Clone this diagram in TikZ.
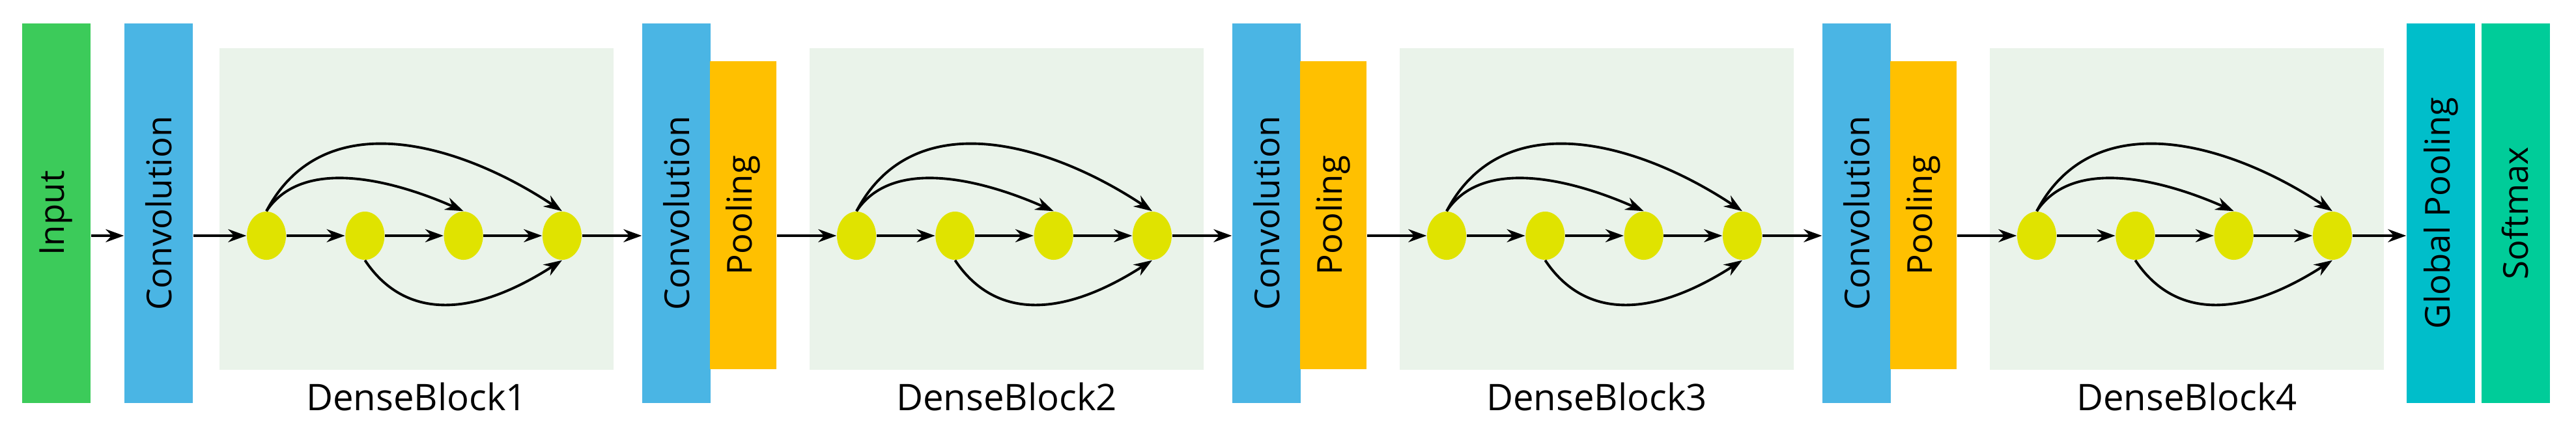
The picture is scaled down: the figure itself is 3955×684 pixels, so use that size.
\documentclass[tikz,border=0pt]{standalone}
\usepackage{fontspec}
\setmainfont{Open Sans}
\usetikzlibrary{arrows.meta,shapes.geometric}
\definecolor{cin}{HTML}{3CCB5A}
\definecolor{cconv}{HTML}{4AB5E4}
\definecolor{cpool}{HTML}{FFC000}
\definecolor{cbg}{HTML}{EAF3EA}
\definecolor{cnode}{HTML}{E0E300}
\definecolor{cgp}{HTML}{00BECA}
\definecolor{csm}{HTML}{00CC99}
\tikzset{
  bar/.style={minimum width=1.05cm, inner sep=0pt, font=\fontsize{15}{15}\selectfont},
  bg/.style={fill=cbg, draw=none, minimum width=6.05cm, minimum height=4.94cm, inner sep=0pt},
  dn/.style={ellipse, fill=cnode, minimum width=0.6cm, minimum height=0.74cm, inner sep=0pt},
  arr/.style={-{Stealth[length=0.28cm,width=0.2cm]}, line width=1.1pt},
  lbl/.style={font=\fontsize{16}{16}\selectfont}
}
\begin{document}
\begin{tikzpicture}[x=0.01cm,y=-0.01cm]
\useasboundingbox (0,0) rectangle (3955,684);
\node[bar, fill=cin, minimum height=5.83cm] (in) at (86.5,327.5) {\rotatebox{90}{Input}};
\node[bar, fill=cconv, minimum height=5.83cm] (c0) at (243.5,327.5) {\rotatebox{90}{Convolution}};
\foreach \k in {1,2,3,4}{
  \pgfmathsetmacro{\ox}{(\k-1)*906}
  \pgfmathsetmacro{\bx}{639.5+\ox}
  \node[bg] (bg\k) at (\bx,321) {};
  \node[lbl] (lab\k) at (\bx,609) {DenseBlock\k};
  \foreach \j in {1,2,3,4}{
    \pgfmathsetmacro{\nx}{409+\ox+(\j-1)*151.3}
    \node[dn] (n\k\j) at (\nx,362) {};
  }
  \draw[arr] (n\k1) -- (n\k2);
  \draw[arr] (n\k2) -- (n\k3);
  \draw[arr] (n\k3) -- (n\k4);
  \draw[arr] (n\k1.north) .. controls +(60,-90) and +(-90,-40) .. (n\k3.north);
  \draw[arr] (n\k1.north) .. controls +(90,-170) and +(-150,-100) .. (n\k4.north);
  \draw[arr] (n\k2.south) .. controls +(60,90) and +(-140,90) .. (n\k4.south);
}
\foreach \k in {1,2,3}{
  \pgfmathsetmacro{\ox}{(\k-1)*906}
  \pgfmathsetmacro{\cx}{1038.5+\ox}
  \pgfmathsetmacro{\px}{1141+\ox}
  \node[bar, fill=cconv, minimum height=5.83cm] (cv\k) at (\cx,327.5) {\rotatebox{90}{Convolution}};
  \node[bar, fill=cpool, minimum height=4.73cm, minimum width=1.02cm] (pl\k) at (\px,330.5) {\rotatebox{90}{Pooling}};
}
\node[bar, fill=cgp, minimum height=5.83cm] (gp) at (3747.5,327.5) {\rotatebox{90}{Global Pooling}};
\node[bar, fill=csm, minimum height=5.83cm] (sm) at (3862,327.5) {\rotatebox{90}{Softmax}};
\draw[arr] (in.east |- n11) -- (c0.west |- n11);
\draw[arr] (c0.east |- n11) -- (n11);
\draw[arr] (n14) -- (cv1.west |- n14);
\draw[arr] (pl1.east |- n21) -- (n21);
\draw[arr] (n24) -- (cv2.west |- n24);
\draw[arr] (pl2.east |- n31) -- (n31);
\draw[arr] (n34) -- (cv3.west |- n34);
\draw[arr] (pl3.east |- n41) -- (n41);
\draw[arr] (n44) -- (gp.west |- n44);
\end{tikzpicture}
\end{document}
